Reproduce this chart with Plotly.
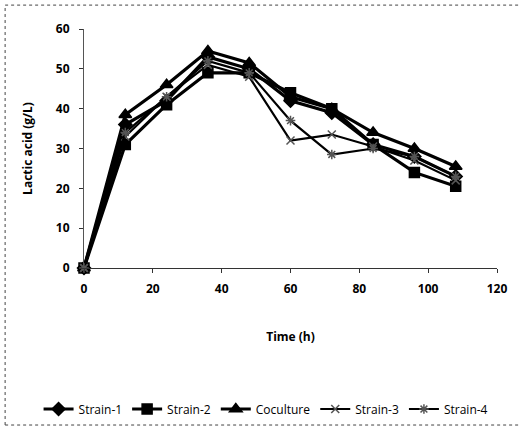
import plotly.graph_objects as go

# Fermentation time (h)
time_h = [0, 12, 24, 36, 48, 60, 72, 84, 96, 108]

# Lactic acid concentration (g/L) per culture
strain_1 = [0, 36, 42, 53, 50, 42, 39, 31, 28, 23]
strain_2 = [0, 31, 41, 49, 49, 44, 40, 31, 24, 20.5]
coculture = [0, 38.5, 46, 54.5, 51.5, 43, 40, 34, 30, 25.5]
strain_3 = [0, 33, 43, 51, 48, 32, 33.5, 30.5, 27, 22]
strain_4 = [0, 34, 43, 52, 49, 37, 28.5, 30, 28, 23]

x_ticks = [0, 20, 40, 60, 80, 100, 120]
y_ticks = [0, 10, 20, 30, 40, 50, 60]

series = [
    ("Strain-1", strain_1, "diamond", 10, 3.2, "black"),
    ("Strain-2", strain_2, "square", 10, 3.2, "black"),
    ("Coculture", coculture, "triangle-up", 11, 3.2, "black"),
    ("Strain-3", strain_3, "x-thin", 8, 2.2, "#555"),
    ("Strain-4", strain_4, "asterisk", 8, 2.2, "#555"),
]

fig = go.Figure()
for name, vals, sym, size, lw, mcol in series:
    fig.add_trace(go.Scatter(
        x=time_h, y=vals, name=name, mode="lines+markers",
        line=dict(color="black", width=lw),
        marker=dict(symbol=sym, size=size, color="black",
                    line=dict(color=mcol, width=1.5)),
        cliponaxis=False,
    ))

font_family = "Open Sans, DejaVu Sans, sans-serif"

# dotted frame around the chart (top, left and bottom edges)
frame = dict(color="#444", width=1, dash="dot")
frame_edges = [
    dict(x0=-0.191, x1=1.2, y0=1.10, y1=1.10),
    dict(x0=-0.191, x1=-0.191, y0=-0.657, y1=1.10),
    dict(x0=-0.191, x1=1.2, y0=-0.657, y1=-0.657),
]
shapes = [dict(type="line", xref="paper", yref="paper", line=frame, **e) for e in frame_edges]

fig.update_layout(
    width=521, height=427,
    margin=dict(l=84, r=24, t=29, b=159, autoexpand=False),
    paper_bgcolor="white", plot_bgcolor="white",
    font=dict(family=font_family, color="black", size=12),
    showlegend=True,
    # anchored left of the plot area so the row may use the full width
    legend=dict(orientation="h", x=-0.11, xanchor="left", y=-0.59, yanchor="middle",
                font=dict(size=12, family=font_family), itemwidth=30,
                tracegroupgap=0, traceorder="normal"),
    xaxis=dict(range=[0, 120], tickvals=x_ticks, showgrid=False, zeroline=False,
               showline=True, linecolor="#333", linewidth=1,
               ticks="outside", ticklen=4, tickcolor="#333", ticklabelstandoff=6,
               tickfont=dict(size=12, family=font_family, weight="bold"),
               title=dict(text="<b>Time (h)</b>", font=dict(size=12), standoff=36)),
    yaxis=dict(range=[0, 60], tickvals=y_ticks, showgrid=False, zeroline=False,
               showline=True, linecolor="#555", linewidth=1,
               ticks="outside", ticklen=4, tickcolor="#333", ticklabelstandoff=7,
               tickfont=dict(size=12, family=font_family, weight="bold"),
               title=dict(text="<b>Lactic acid (g/L)</b>", font=dict(size=12), standoff=20)),
    shapes=shapes,
)

fig.write_html("out.html")
